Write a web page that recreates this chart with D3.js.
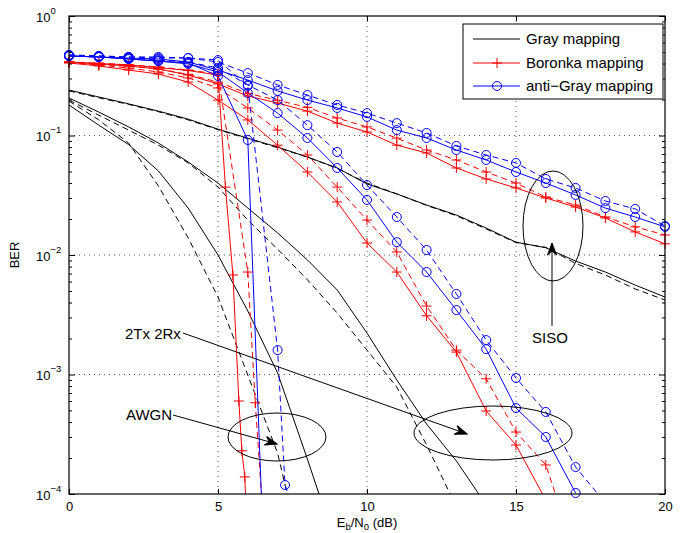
<!DOCTYPE html>
<html>
<head>
<meta charset="utf-8">
<script src="https://cdn.jsdelivr.net/npm/d3@7"></script>
<style>
  body { margin: 0; background: #fff; }
  text { font-family: "Liberation Sans", Arial, Helvetica, sans-serif; fill: #000; }
</style>
</head>
<body>
<svg width="690" height="533"></svg>
<script>
// Eb/N0 grid (dB)
const snr = [0,1,2,3,4,5,6,7,8,9,10,11,12,13,14,15,16,17,18,19,20];

// Gray mapping (black)
const graySisoSolid = [0.240,0.210,0.184,0.160,0.137,0.113,0.095,0.080,0.066,0.0535,0.0393,0.0324,0.0262,0.0216,0.0168,0.0128,0.0115,0.0089,0.0072,0.0056,0.00445];
const graySisoDash  = [0.236,0.207,0.182,0.158,0.135,0.112,0.094,0.079,0.066,0.053,0.040,0.0325,0.026,0.0213,0.0165,0.0127,0.0116,0.0085,0.0068,0.0052,0.0042];
const gray2x2Solid  = [0.206,0.157,0.118,0.0865,0.060,0.040,0.0247,0.0153,0.0091,0.0051,0.00222,0.0009,0.000385,0.000189,0.000081];
const gray2x2Dash   = [0.198,0.148,0.111,0.083,0.059,0.037,0.0196,0.0112,0.0062,0.00327,0.0016,0.000785,0.000257,0.000078];
const grayAwgnSolid = [0.180,0.122,0.084,0.0505,0.0247,0.010,0.0034,0.00103,0.000196,0.000035];
const grayAwgnDash  = [0.194,0.135,0.0865,0.0378,0.0139,0.00445,0.00099,0.00022,0.000019];

// Boronka mapping (red, +)
const boroSisoSolid = [0.412,0.397,0.382,0.36,0.321,0.27,0.214,0.187,0.16,0.127,0.107,0.083,0.0714,0.0535,0.0433,0.0364,0.030,0.0252,0.0204,0.0156,0.0124];
const boroSisoDash  = [0.41,0.395,0.38,0.36,0.325,0.28,0.225,0.197,0.172,0.14,0.118,0.095,0.0756,0.0624,0.0495,0.040,0.0306,0.0262,0.0208,0.0172,0.0147];
const boro2x2Solid  = [0.404,0.382,0.353,0.327,0.28,0.198,0.135,0.083,0.0495,0.0278,0.0126,0.0072,0.0031,0.00154,0.000495,0.000257,0.000089];
const boro2x2Dash   = [0.41,0.389,0.367,0.34,0.303,0.25,0.17,0.111,0.0687,0.037,0.0196,0.0106,0.00374,0.0016,0.00092,0.00033,0.000175,0.000031];
const boroAwgnSnrSolid = [0,1,2,3,4,5,5.25,5.5,5.7,5.8,5.9,6];
const boroAwgnSolid    = [0.412,0.40,0.39,0.37,0.35,0.32,0.037,0.0068,0.0006,0.00023,0.000139,0.00003];
const boroAwgnSnrDash  = [0,1,2,3,4,5,6,6.25,6.5];
const boroAwgnDash     = [0.412,0.404,0.39,0.375,0.353,0.327,0.0072,0.00058,0.00007];

// anti-Gray mapping (blue, o)
const antiSisoSolid = [0.463,0.454,0.445,0.437,0.412,0.353,0.291,0.236,0.198,0.170,0.143,0.111,0.0953,0.0756,0.0624,0.0495,0.0400,0.0318,0.0247,0.0208,0.0172];
const antiSisoDash  = [0.472,0.463,0.454,0.454,0.445,0.412,0.333,0.265,0.218,0.180,0.154,0.127,0.105,0.0817,0.0687,0.0589,0.0433,0.0364,0.0283,0.0243,0.0175];
const anti2x2Solid  = [0.463,0.454,0.437,0.420,0.397,0.340,0.227,0.154,0.0953,0.0535,0.0289,0.0128,0.0072,0.00346,0.00163,0.000524,0.000300,0.000102];
const anti2x2Dash   = [0.463,0.454,0.445,0.428,0.412,0.367,0.265,0.198,0.122,0.0728,0.0385,0.0208,0.0110,0.00472,0.00194,0.000935,0.000486,0.000168,0.0000841];
const antiAwgnSnrSolid = [0,1,2,3,4,5,6,6.5];
const antiAwgnSolid    = [0.463,0.454,0.437,0.420,0.404,0.315,0.0917,0.00005];
const antiAwgnSnrDash  = [0,1,2,3,4,5,6,7,7.25,7.5];
const antiAwgnDash     = [0.472,0.463,0.454,0.445,0.445,0.428,0.26,0.0016,0.000119,0.0000778];

const xTicks = [0,5,10,15,20];
const yDecades = [1e-4,1e-3,1e-2,1e-1,1];
const legendLabels = ['Gray mapping','Boronka mapping','anti\u2212Gray mapping'];

const svg = d3.select('svg');
const pL = 69, pR = 665, pT = 16, pB = 494;

const x = d3.scaleLinear().domain([0,20]).range([pL,pR]);
const y = d3.scaleLog().domain([1e-4,1]).range([pB,pT]);

// grid
const grid = svg.append('g').attr('stroke','#555').attr('stroke-dasharray','1,4');
xTicks.slice(1,-1).forEach(t => grid.append('line')
  .attr('x1',x(t)).attr('x2',x(t)).attr('y1',pT).attr('y2',pB));
yDecades.slice(1,-1).forEach(t => grid.append('line')
  .attr('x1',pL).attr('x2',pR).attr('y1',y(t)).attr('y2',y(t)));

// series
const pick = (xs, ys) => ys.map((v,i) => [xs[i], v]);
const series = [
  {d: pick(snr, graySisoSolid), c:'#000', dash:false, m:null},
  {d: pick(snr, graySisoDash), c:'#000', dash:true, m:null},
  {d: pick(snr, gray2x2Solid), c:'#000', dash:false, m:null},
  {d: pick(snr, gray2x2Dash), c:'#000', dash:true, m:null},
  {d: pick(snr, grayAwgnSolid), c:'#000', dash:false, m:null},
  {d: pick(snr, grayAwgnDash), c:'#000', dash:true, m:null},
  {d: pick(snr, boroSisoSolid), c:'#ff0000', dash:false, m:'plus'},
  {d: pick(snr, boroSisoDash), c:'#ff0000', dash:true, m:'plus'},
  {d: pick(snr, boro2x2Solid), c:'#ff0000', dash:false, m:'plus'},
  {d: pick(snr, boro2x2Dash), c:'#ff0000', dash:true, m:'plus'},
  {d: pick(boroAwgnSnrSolid, boroAwgnSolid), c:'#ff0000', dash:false, m:'plus'},
  {d: pick(boroAwgnSnrDash, boroAwgnDash), c:'#ff0000', dash:true, m:'plus'},
  {d: pick(snr, antiSisoSolid), c:'#0000ff', dash:false, m:'circle'},
  {d: pick(snr, antiSisoDash), c:'#0000ff', dash:true, m:'circle'},
  {d: pick(snr, anti2x2Solid), c:'#0000ff', dash:false, m:'circle'},
  {d: pick(snr, anti2x2Dash), c:'#0000ff', dash:true, m:'circle'},
  {d: pick(antiAwgnSnrSolid, antiAwgnSolid), c:'#0000ff', dash:false, m:'circle'},
  {d: pick(antiAwgnSnrDash, antiAwgnDash), c:'#0000ff', dash:true, m:'circle'},
];

svg.append('clipPath').attr('id','plotclip')
  .append('rect').attr('x',pL).attr('y',pT).attr('width',pR-pL).attr('height',pB-pT);

const line = d3.line().x(d => x(d[0])).y(d => y(d[1]));
const plot = svg.append('g').attr('clip-path','url(#plotclip)');

const plusPath = 'M-5,0H5M0,-5V5';
function drawMarker(g, type, cx, cy, color) {
  if (type === 'plus') {
    g.append('path').attr('d',plusPath).attr('transform',`translate(${cx},${cy})`)
      .attr('stroke',color).attr('fill','none').attr('stroke-width',1);
  } else if (type === 'circle') {
    g.append('circle').attr('cx',cx).attr('cy',cy).attr('r',4.5)
      .attr('stroke',color).attr('fill','none').attr('stroke-width',1);
  }
}

series.forEach(s => {
  plot.append('path').datum(s.d).attr('d',line)
    .attr('fill','none').attr('stroke',s.c).attr('stroke-width',1)
    .attr('stroke-dasharray', s.dash ? '6,4' : null);
  if (s.m) {
    s.d.filter(p => p[1] >= 0.99e-4 && p[1] <= 1).forEach(p => drawMarker(svg, s.m, x(p[0]), y(p[1]), s.c));
  }
});

// axes box and ticks (inward, all four sides)
const axes = svg.append('g');
axes.append('g').attr('transform',`translate(0,${pB})`)
  .call(d3.axisBottom(x).tickValues(xTicks).tickSize(-5).tickPadding(8).tickFormat(d3.format('d')));
axes.append('g').attr('transform',`translate(0,${pT})`)
  .call(d3.axisTop(x).tickValues(xTicks).tickSize(-5).tickFormat(''));
const minorVals = y.ticks().filter(v => !yDecades.some(dv => Math.abs(dv - v) < dv * 1e-6));
axes.append('g').attr('transform',`translate(${pL},0)`)
  .call(d3.axisLeft(y).tickValues(yDecades).tickSize(-6).tickFormat(''));
axes.append('g').attr('transform',`translate(${pL},0)`)
  .call(d3.axisLeft(y).tickValues(minorVals).tickSize(-3).tickFormat(''));
axes.append('g').attr('transform',`translate(${pR},0)`)
  .call(d3.axisRight(y).tickValues(yDecades).tickSize(-6).tickFormat(''));
axes.append('g').attr('transform',`translate(${pR},0)`)
  .call(d3.axisRight(y).tickValues(minorVals).tickSize(-3).tickFormat(''));
axes.selectAll('.domain').remove();
axes.selectAll('.tick line').attr('stroke','#000');
axes.selectAll('.tick text').attr('font-size',13).attr('fill','#000')
  .attr('font-family','"Liberation Sans", Arial, sans-serif');

svg.append('rect').attr('x',pL).attr('y',pT).attr('width',pR-pL).attr('height',pB-pT)
  .attr('fill','none').attr('stroke','#000').attr('stroke-width',1.2);

// y tick labels 10^k
yDecades.forEach(v => {
  const k = Math.round(Math.log10(v));
  const t = svg.append('text').attr('x',36).attr('y',y(v) + 5.5).attr('font-size',13);
  t.append('tspan').text('10');
  t.append('tspan').attr('font-size',9.5).attr('dy',-8).text(k === 0 ? '0' : '\u2212' + (-k));
});

// axis labels
const xl = svg.append('text').attr('x',(pL+pR)/2).attr('y',527)
  .attr('text-anchor','middle').attr('font-size',13);
xl.append('tspan').text('E');
xl.append('tspan').attr('font-size',9.5).attr('dy',3).text('b');
xl.append('tspan').attr('dy',-3).text('/N');
xl.append('tspan').attr('font-size',9.5).attr('dy',3).text('0');
xl.append('tspan').attr('dy',-3).text(' (dB)');

svg.append('text').attr('transform',`translate(19,${(pT+pB)/2}) rotate(-90)`)
  .attr('text-anchor','middle').attr('font-size',13).text('BER');

// annotations
const ann = svg.append('g').attr('stroke','#000').attr('fill','none').attr('stroke-width',1);
function arrow(from, tip) {
  ann.append('line').attr('x1',from[0]).attr('y1',from[1]).attr('x2',tip[0]).attr('y2',tip[1]);
  const ang = Math.atan2(tip[1]-from[1], tip[0]-from[0]) * 180 / Math.PI;
  ann.append('path').attr('d','M0,0L-12,-4.5L-8,0L-12,4.5Z')
    .attr('transform',`translate(${tip[0]},${tip[1]}) rotate(${ang})`)
    .attr('fill','#000');
}
ann.append('ellipse').attr('cx',277).attr('cy',437).attr('rx',49).attr('ry',24);
ann.append('ellipse').attr('cx',493).attr('cy',433).attr('rx',79).attr('ry',27);
ann.append('ellipse').attr('cx',553).attr('cy',226).attr('rx',30).attr('ry',55);
arrow([173,415],[277,444]);
arrow([183,333],[467,434]);
arrow([552,326],[552,243]);

svg.append('text').attr('x',126).attr('y',420).attr('font-size',15).text('AWGN');
svg.append('text').attr('x',125).attr('y',339).attr('font-size',15).text('2Tx 2Rx');
svg.append('text').attr('x',550).attr('y',343).attr('font-size',15).attr('text-anchor','middle').text('SISO');

// legend
const lg = svg.append('g');
lg.append('rect').attr('x',463).attr('y',24).attr('width',200).attr('height',75)
  .attr('fill','#fff').attr('stroke','#000').attr('stroke-width',1);
const legendColors = ['#000','#ff0000','#0000ff'];
const legendMarks = [null,'plus','circle'];
const legendY = [39,63,86];
legendLabels.forEach((lab,i) => {
  lg.append('line').attr('x1',473).attr('x2',520).attr('y1',legendY[i]).attr('y2',legendY[i])
    .attr('stroke',legendColors[i]).attr('stroke-width',1);
  if (legendMarks[i]) drawMarker(lg, legendMarks[i], 497, legendY[i], legendColors[i]);
  lg.append('text').attr('x',526).attr('y',legendY[i] + 5).attr('font-size',15).text(lab);
});
</script>
</body>
</html>
